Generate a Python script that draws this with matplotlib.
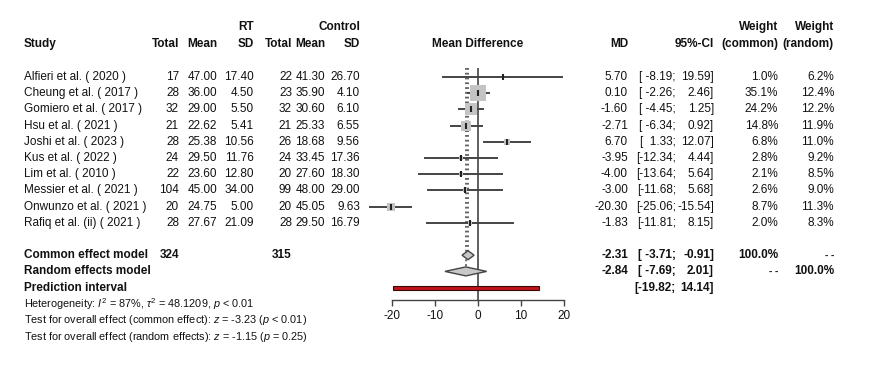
import numpy as np
import matplotlib
matplotlib.use("Agg")
import matplotlib.pyplot as plt
from matplotlib.patches import Polygon, Rectangle

plt.rcParams["font.family"] = ["Liberation Sans", "DejaVu Sans"]
plt.rcParams["mathtext.fontset"] = "custom"
plt.rcParams["mathtext.rm"] = "Liberation Sans"
plt.rcParams["mathtext.it"] = "Liberation Sans:italic"
plt.rcParams["axes.unicode_minus"] = False

# ---- data ----
studies = ["Alfieri et al. ( 2020 )", "Cheung et al. ( 2017 )", "Gomiero et al. ( 2017 )",
           "Hsu et al. ( 2021 )", "Joshi et al. ( 2023 )", "Kus et al. ( 2022 )",
           "Lim et al. ( 2010 )", "Messier et al. ( 2021 )", "Onwunzo et al. ( 2021 )",
           "Rafiq et al. (ii) ( 2021 )"]
n_rt = [17, 28, 32, 21, 28, 24, 22, 104, 20, 28]
mean_rt = [47.00, 36.00, 29.00, 22.62, 25.38, 29.50, 23.60, 45.00, 24.75, 27.67]
sd_rt = [17.40, 4.50, 5.50, 5.41, 10.56, 11.76, 12.80, 34.00, 5.00, 21.09]
n_ctl = [22, 23, 32, 21, 26, 24, 20, 99, 20, 28]
mean_ctl = [41.30, 35.90, 30.60, 25.33, 18.68, 33.45, 27.60, 48.00, 45.05, 29.50]
sd_ctl = [26.70, 4.10, 6.10, 6.55, 9.56, 17.36, 18.30, 29.00, 9.63, 16.79]
md = [5.70, 0.10, -1.60, -2.71, 6.70, -3.95, -4.00, -3.00, -20.30, -1.83]
ci_lo = [-8.19, -2.26, -4.45, -6.34, 1.33, -12.34, -13.64, -11.68, -25.06, -11.81]
ci_hi = [19.59, 2.46, 1.25, 0.92, 12.07, 4.44, 5.64, 5.68, -15.54, 8.15]
w_common = [1.0, 35.1, 24.2, 14.8, 6.8, 2.8, 2.1, 2.6, 8.7, 2.0]
w_random = [6.2, 12.4, 12.2, 11.9, 11.0, 9.2, 8.5, 9.0, 11.3, 8.3]

total_rt, total_ctl = 324, 315
common_md, common_lo, common_hi = -2.31, -3.71, -0.91
random_md, random_lo, random_hi = -2.84, -7.69, 2.01
pi_lo, pi_hi = -19.82, 14.14
x_ticks = [-20, -10, 0, 10, 20]

# ---- layout (pixels) ----
W, H = 886, 381
row0, drow = 77, 16.2
rows = [row0 + i * drow for i in range(len(studies))]
y_common = row0 + 11 * drow
y_random = row0 + 12 * drow
y_pi = row0 + 13 * drow
FS = 8.5
FS_SMALL = 7.8
DARK = "#444444"

fig = plt.figure(figsize=(W / 100, H / 100), dpi=100)
tx = fig.add_axes([0, 0, 1, 1])
tx.set_xlim(0, W)
tx.set_ylim(H, 0)
tx.axis("off")


def put(x, y, s, ha="right", bold=False, size=FS):
    tx.text(x, y, s, ha=ha, va="center", fontsize=size,
            fontweight="bold" if bold else "normal", color="#111111")


def ci_text(y, lo, hi, bold=False):
    # R style: "[%6s; %6s]"
    put(676, y, "[" + f"{lo:.2f}".rjust(6) + ";", bold=bold)
    put(714, y, f"{hi:.2f}]", bold=bold)


# column positions
c_study, c_nrt, c_mrt, c_srt, c_nc, c_mc, c_sc = 24, 179, 217, 254, 292, 325, 360
c_md, c_wc, c_wr = 628, 778, 834

# headers
put(c_srt, 27, "RT", bold=True)
put(c_sc, 27, "Control", bold=True)
put(c_wc, 27, "Weight", bold=True)
put(c_wr, 27, "Weight", bold=True)
put(c_study, 44, "Study", ha="left", bold=True)
for x, s in [(c_nrt, "Total"), (c_mrt, "Mean"), (c_srt, "SD"), (c_nc, "Total"),
             (c_mc, "Mean"), (c_sc, "SD"), (c_md, "MD"), (714, "95%-CI"),
             (c_wc, "(common)"), (c_wr, "(random)")]:
    put(x, 44, s, bold=True)
put(478, 44, "Mean Difference", ha="center", bold=True)

# study rows
for i, y in enumerate(rows):
    put(c_study, y, studies[i], ha="left")
    put(c_nrt, y, f"{n_rt[i]}")
    put(c_mrt, y, f"{mean_rt[i]:.2f}")
    put(c_srt, y, f"{sd_rt[i]:.2f}")
    put(c_nc, y, f"{n_ctl[i]}")
    put(c_mc, y, f"{mean_ctl[i]:.2f}")
    put(c_sc, y, f"{sd_ctl[i]:.2f}")
    put(c_md, y, f"{md[i]:.2f}")
    ci_text(y, ci_lo[i], ci_hi[i])
    put(c_wc, y, f"{w_common[i]:.1f}%")
    put(c_wr, y, f"{w_random[i]:.1f}%")

# summary rows
put(c_study, y_common, "Common effect model", ha="left", bold=True)
put(c_nrt, y_common, f"{total_rt}", bold=True)
put(c_nc, y_common, f"{total_ctl}", bold=True)
put(c_md, y_common, f"{common_md:.2f}", bold=True)
ci_text(y_common, common_lo, common_hi, bold=True)
put(c_wc, y_common, "100.0%", bold=True)
put(c_wr, y_common, "- -", bold=True, size=7)

put(c_study, y_random, "Random effects model", ha="left", bold=True)
put(c_md, y_random, f"{random_md:.2f}", bold=True)
ci_text(y_random, random_lo, random_hi, bold=True)
put(c_wc, y_random, "- -", bold=True, size=7)
put(c_wr, y_random, "100.0%", bold=True)

put(c_study, y_pi, "Prediction interval", ha="left", bold=True)
ci_text(y_pi, pi_lo, pi_hi, bold=True)

put(c_study, 304, r"Heterogeneity: $I^2$ = 87%, $\tau^2$ = 48.1209, $p$ < 0.01", ha="left", size=FS_SMALL)
put(c_study, 320, r"Test for overall effect (common effect): $z$ = -3.23 ($p$ < 0.01)", ha="left", size=FS_SMALL)
put(c_study, 337, r"Test for overall effect (random effects): $z$ = -1.15 ($p$ = 0.25)", ha="left", size=FS_SMALL)

# ---- forest panel ----
px_left, px_right, px_top, px_bot = 392, 564, 68, 300
ax = fig.add_axes([px_left / W, (H - px_bot) / H, (px_right - px_left) / W, (px_bot - px_top) / H])
ax.set_xlim(-20, 20)
ax.set_ylim(px_bot, px_top)
ax.patch.set_visible(False)
for side in ["top", "right", "left"]:
    ax.spines[side].set_visible(False)
ax.spines["bottom"].set_bounds(-20, 20)
ax.spines["bottom"].set_color(DARK)
ax.spines["bottom"].set_linewidth(1.0)
ax.set_yticks([])
ax.set_xticks(x_ticks)
ax.tick_params(axis="x", length=4, width=1.0, color=DARK, labelsize=FS, pad=3, labelcolor="#111111")

ax.axvline(0, color=DARK, lw=1.2, zorder=1)
ax.plot([common_md, common_md], [px_top, y_common], ls=":", color="#555555", lw=1.3, zorder=1)
ax.plot([random_md, random_md], [px_top, y_random], ls=":", color="#555555", lw=1.3, zorder=1)

max_side_px = 15.5
for i, y in enumerate(rows):
    ax.plot([ci_lo[i], ci_hi[i]], [y, y], color=DARK, lw=1.4, clip_on=False, zorder=2)
    side_pt = max_side_px * np.sqrt(w_common[i] / max(w_common)) * 0.72
    ax.scatter([md[i]], [y], marker="s", s=side_pt ** 2, color="#c4c4c4", lw=0,
               clip_on=False, zorder=3)
    ax.plot([md[i]], [y], marker="|", ms=4, mew=1.5, color="#222222", clip_on=False, zorder=4)

hd = 4.5
for m, lo, hi, y in [(common_md, common_lo, common_hi, y_common),
                     (random_md, random_lo, random_hi, y_random)]:
    ax.add_patch(Polygon([[lo, y], [m, y - hd], [hi, y], [m, y + hd]], closed=True,
                         facecolor="#c8c8c8", edgecolor=DARK, lw=1.0, clip_on=False, zorder=3))

ax.add_patch(Rectangle((pi_lo, y_pi - 2), pi_hi - pi_lo, 4, facecolor="#c0141a",
                       edgecolor="#3a0a0a", lw=0.8, clip_on=False, zorder=3))

fig.savefig("out.png", dpi=100)
